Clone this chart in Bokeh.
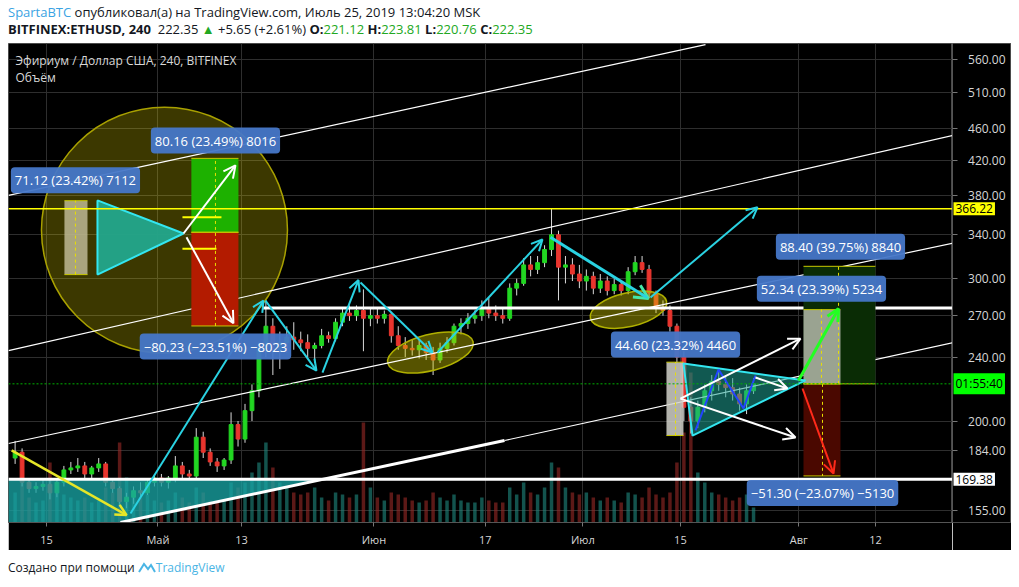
from bokeh.plotting import figure
from bokeh.models import (ColumnDataSource, Range1d, LinearScale, FixedTicker, Label, Arrow,
                          OpenHead, Div, Span, NumeralTickFormatter)
from bokeh.layouts import column, row
from bokeh.embed import file_html
from bokeh.resources import INLINE

# ---------------- data (x = days since 2019-04-01, daily candles) ----------------
day = list(range(9, 116))
open_ = [180, 183, 168, 165, 166, 167, 163, 168, 174, 175, 176, 172, 175, 177, 168, 165, 159, 161, 164, 163,
         168, 170, 168, 170, 176, 172, 171, 191, 183, 178, 176, 179, 198, 190, 206, 218, 246, 262, 245, 250,
         254, 252, 250, 246, 248, 255, 253, 265, 272, 270, 274, 268, 270, 268, 271, 255, 248, 246, 245, 248,
         243, 238, 246, 250, 262, 264, 268, 270, 276, 272, 270, 268, 292, 296, 312, 308, 314, 326, 340, 310,
         312, 304, 298, 302, 292, 298, 290, 295, 290, 306, 314, 308, 288, 276, 274, 262, 240, 208, 200, 208,
         218, 224, 222, 220, 216, 210, 218]
high = [189, 185, 170, 168, 169, 170, 170, 176, 178, 180, 178, 176, 180, 178, 169, 166, 163, 166, 168, 170,
        172, 172, 171, 181, 178, 174, 196, 194, 185, 180, 180, 205, 200, 210, 222, 250, 282, 268, 258, 262,
        265, 258, 256, 250, 260, 258, 268, 276, 278, 278, 291, 276, 276, 274, 273, 262, 254, 252, 252, 250,
        247, 250, 254, 264, 268, 272, 274, 282, 284, 278, 276, 296, 300, 318, 320, 320, 330, 366, 344, 320,
        318, 312, 308, 306, 304, 302, 300, 298, 310, 320, 320, 312, 290, 282, 278, 264, 244, 214, 212, 222,
        228, 232, 228, 226, 220, 222, 226]
low = [177, 166, 163, 163, 164, 160, 161, 166, 172, 173, 170, 170, 173, 166, 163, 157, 156, 158, 161, 162,
       166, 166, 165, 168, 170, 169, 170, 180, 176, 173, 174, 177, 186, 188, 200, 214, 240, 228, 232, 243,
       245, 244, 240, 236, 246, 250, 251, 262, 266, 266, 244, 262, 264, 264, 250, 245, 240, 241, 239, 238,
       228, 236, 243, 248, 256, 260, 264, 266, 268, 266, 264, 266, 286, 294, 302, 304, 310, 320, 282, 296,
       298, 292, 290, 287, 288, 286, 287, 286, 287, 303, 305, 284, 272, 270, 258, 236, 200, 193, 196, 205,
       212, 218, 214, 212, 206, 204, 216]
close = [183, 168, 165, 166, 167, 163, 168, 174, 175, 176, 172, 175, 177, 168, 165, 159, 161, 164, 163, 168,
         170, 168, 170, 176, 172, 171, 191, 183, 178, 176, 179, 198, 190, 206, 218, 246, 262, 245, 250, 254,
         252, 250, 246, 248, 255, 253, 265, 272, 270, 274, 268, 270, 268, 271, 255, 248, 246, 245, 248, 243,
         238, 246, 250, 262, 264, 268, 270, 276, 272, 270, 268, 292, 296, 312, 308, 314, 326, 340, 310, 312,
         304, 298, 302, 292, 298, 290, 295, 290, 306, 314, 308, 288, 276, 274, 262, 240, 208, 200, 208, 218,
         224, 222, 220, 216, 210, 218, 222.35]
volume = [30, 40, 25, 20, 22, 60, 30, 28, 25, 22, 25, 20, 22, 35, 30, 80, 45, 30, 25, 28,
          22, 20, 22, 30, 25, 20, 35, 30, 22, 20, 22, 40, 35, 40, 50, 60, 80, 55, 40, 35,
          30, 28, 30, 35, 25, 22, 30, 28, 25, 28, 100, 35, 25, 22, 30, 28, 25, 22, 20, 22,
          30, 25, 22, 28, 22, 20, 20, 25, 22, 20, 20, 35, 28, 40, 30, 28, 35, 60, 55, 35,
          30, 28, 30, 25, 22, 25, 22, 20, 30, 28, 25, 35, 28, 25, 30, 60, 90, 150, 50, 40,
          30, 28, 25, 22, 25, 28, 15]

X_START, X_END = 8.55, 144.06
Y_LOW, Y_HIGH = 149.8, 586.2
x_ticks = [14, 30, 42, 61, 77, 91, 105, 122, 133]
x_tick_labels = ["15", "Май", "13", "Июн", "17", "Июл", "15", "Авг", "12"]
y_ticks = [155, 184, 200, 240, 270, 300, 340, 380, 420, 460, 510, 560]

last_price = 222.35
level_yellow = 366.22
level_low = 169.38
level_res = 276.0

# channel lines (x0, y0, x1, y1)
chan_x0 = [8.55, 8.55, 8.55, 79.75]
chan_y0 = [380.3, 244.4, 187.6, 189.2]
chan_x1 = [108.6, 144.06, 144.06, 144.06]
chan_y1 = [584.4, 451.0, 331.9, 250.0]
support_x = [24.62, 79.75]
support_y = [149.8, 189.2]
res_x = [45.0, 144.06]
teal_poly_x = [8.55, 54.19, 24.62, 8.55]
teal_poly_y = [169.38, 169.38, 149.8, 149.8]

# cyan zigzag arrows
cy_x0 = [26.06, 45.44, 53.62, 59.08, 70.13, 100.71]
cy_y0 = [153.7, 281.8, 229.6, 296.7, 243.1, 284.3]
cy_x1 = [45.15, 52.76, 58.79, 69.41, 85.2, 116.07]
cy_y1 = [281.8, 230.9, 298.8, 243.1, 335.4, 367.6]
peak_arrow = [86.35, 337.6, 100.42, 283.5]
yellow_arrow = [9.0, 184.0, 25.5, 153.0]

# white arrows
wa_x0 = [33.67, 34.10, 105.01, 105.01, 115.78]
wa_y0 = [341.2, 337.6, 213.2, 213.2, 226.4]
wa_x1 = [41.13, 40.84, 122.24, 121.52, 120.37]
wa_y1 = [414.2, 264.2, 252.9, 190.8, 219.4]
green_arrow = [121.95, 224.5, 127.7, 275.4]
red_arrow = [122.53, 219.4, 126.98, 172.2]

# highlight ellipses
ell_x = [69.12, 97.55]
ell_y = [243.1, 274.6]
circle_x, circle_y = 30.94, 344.5

# rectangles (left, right, bottom, top)
rect_left = [16.58, 34.8, 34.8, 103.0, 122.67, 122.67, 122.67]
rect_right = [19.89, 41.56, 41.56, 105.44, 133.0, 127.98, 127.98]
rect_bottom = [303.5, 342.4, 262.2, 191.9, 222.35, 222.35, 171.05]
rect_top = [374.6, 422.6, 342.4, 236.5, 310.75, 274.69, 222.35]
rect_colors = ["#bdb894", "#1db100", "#b31b00", "#d2d2ca", "#0a2c05", "#b4b8aa", "#4a0800"]
rect_alpha = [0.85, 1.0, 1.0, 0.85, 1.0, 0.85, 1.0]
dash_x = [18.16, 38.26, 104.3, 125.25, 127.7, 125.4]
dash_y0 = [303.5, 262.2, 191.9, 222.35, 222.35, 222.35]
dash_y1 = [374.6, 422.6, 236.5, 274.69, 310.75, 171.05]

tri1_x = [21.32, 21.32, 33.67]
tri1_y = [374.9, 303.5, 341.2]
tri2_x = [105.44, 106.74, 122.96]
tri2_y = [235.6, 191.9, 224.5]
zig_x = [107.17, 110.47, 114.06, 115.78]
zig_y = [194.7, 231.6, 207.3, 227.7]
short_x0 = [33.52, 33.52]
short_x1 = [39.12, 38.4]
short_y = [357.4, 326.7]

meas_text = ["71.12 (23.42%) 7112", "80.16 (23.49%) 8016", "\u221280.23 (\u221223.51%) \u22128023",
             "44.60 (23.32%) 4460", "88.40 (39.75%) 8840", "52.34 (23.39%) 5234",
             "\u221251.30 (\u221223.07%) \u22125130"]
meas_x = [18.16, 38.26, 38.26, 104.3, 127.98, 125.25, 125.4]
meas_y = [397.0, 444.6, 247.3, 248.7, 328.6, 291.6, 162.9]

scale_marks = ["366.22", "01:55:40", "169.38"]
scale_mark_y = [level_yellow, last_price, level_low]
scale_mark_bg = ["#ffff00", "#00ff00", "#ffffff"]

# ---------------- main figure ----------------
y_range = Range1d(Y_LOW, Y_HIGH)
p = figure(width=944, height=507,
           x_range=Range1d(X_START, X_END), y_range=y_range,
           y_axis_type="log", y_axis_location="right",
           output_backend="svg", toolbar_location=None,
           min_border_left=0, min_border_right=0, min_border_top=0, min_border_bottom=28,
           background_fill_color="#000000", border_fill_color="#000000",
           outline_line_color="#4a4a4a")
p.extra_y_ranges = {"vol": Range1d(0, 479)}
p.extra_y_scales = {"vol": LinearScale()}
p.yaxis.visible = False

xax = p.xaxis[0]
xax.ticker = FixedTicker(ticks=x_ticks, minor_ticks=[])
xax.major_label_overrides = {t: l for t, l in zip(x_ticks, x_tick_labels)}
xax.major_label_text_color = "#d6d6d6"
xax.major_label_text_font = "Open Sans"
xax.major_label_text_font_size = "11px"
xax.axis_line_color = "#555555"
xax.major_tick_line_color = "#777777"
xax.major_tick_in = 0
xax.major_tick_out = 4
xax.minor_tick_line_color = None
xax.major_label_standoff = 5

p.xgrid.ticker = FixedTicker(ticks=x_ticks)
p.ygrid.ticker = FixedTicker(ticks=y_ticks)
p.grid.grid_line_color = "#2e2e2e"

# volume
xc = [d + 0.5 for d in day]
up = [c >= o for o, c in zip(open_, close)]
vol_col = ["#1f8a80" if u else "#9a2a26" for u in up]
p.vbar(x=xc, top=volume, bottom=0, width=0.5, y_range_name="vol",
       fill_color=vol_col, line_color=None, fill_alpha=0.6)

# candles
cand_col = ["#22d622" if u else "#e8352e" for u in up]
p.segment(x0=xc, y0=low, x1=xc, y1=high, line_color="#d9d9d9", line_width=1)
p.vbar(x=xc, top=[max(o, c) for o, c in zip(open_, close)],
       bottom=[min(o, c) for o, c in zip(open_, close)], width=0.55,
       fill_color=cand_col, line_color=cand_col)

# big circle and ellipses
p.ellipse(x=[circle_x], y=[circle_y], width=246, height=246, width_units="screen", height_units="screen",
          fill_color="#f0e000", fill_alpha=0.25, line_color="#a8a000", line_width=1.5)
p.ellipse(x=ell_x, y=ell_y, width=[88, 78], height=[36, 34], angle=[0.25, 0.22],
          width_units="screen", height_units="screen",
          fill_color="#d8d000", fill_alpha=0.4, line_color="#b0b000", line_width=1.5)

# teal zone bottom-left
p.patch(teal_poly_x, teal_poly_y, fill_color="#18a3a3", fill_alpha=0.78, line_color=None)

# levels
p.add_layout(Span(location=level_yellow, dimension="width", line_color="#ffff00", line_width=1.5))
p.add_layout(Span(location=last_price, dimension="width", line_color="#00b000", line_width=1,
                  line_dash="2 2"))
p.add_layout(Span(location=level_low, dimension="width", line_color="#ffffff", line_width=3))
p.line(res_x, [level_res, level_res], line_color="#ffffff", line_width=3)

# channels
p.segment(x0=chan_x0, y0=chan_y0, x1=chan_x1, y1=chan_y1, line_color="#ffffff", line_width=1.2)
p.line(support_x, support_y, line_color="#ffffff", line_width=3)

# rectangles
p.quad(left=rect_left, right=rect_right, bottom=rect_bottom, top=rect_top,
       fill_color=rect_colors, fill_alpha=rect_alpha, line_color=None)
p.segment(x0=rect_left, y0=rect_top, x1=rect_right, y1=rect_top, line_color="#c8c800", line_width=1)
p.segment(x0=rect_left, y0=rect_bottom, x1=rect_right, y1=rect_bottom, line_color="#c8c800", line_width=1)
p.segment(x0=dash_x, y0=dash_y0, x1=dash_x, y1=dash_y1, line_color="#e8e000", line_width=1,
          line_dash="3 3")
p.segment(x0=short_x0, y0=short_y, x1=short_x1, y1=short_y, line_color="#ffff00", line_width=2)

# triangles
p.patch(tri1_x, tri1_y, fill_color="#22a68c", fill_alpha=0.95, line_color="#33e6f0", line_width=2)
p.patch(tri2_x, tri2_y, fill_color="#1fa294", fill_alpha=0.55, line_color="#33e6f0", line_width=2)
p.line(zig_x, zig_y, line_color="#2244ff", line_width=2)


def arrows(x0, y0, x1, y1, color, width, head_color=None, size=11):
    src = ColumnDataSource(dict(x0=x0, y0=y0, x1=x1, y1=y1))
    p.add_layout(Arrow(end=OpenHead(line_color=head_color or color, line_width=width, size=size),
                       x_start="x0", y_start="y0", x_end="x1", y_end="y1", source=src,
                       line_color=color, line_width=width))


arrows(cy_x0, cy_y0, cy_x1, cy_y1, "#2ad2e2", 2)
arrows([peak_arrow[0]], [peak_arrow[1]], [peak_arrow[2]], [peak_arrow[3]], "#2ad2e2", 3,
       head_color="#45e6a8", size=14)
arrows([yellow_arrow[0]], [yellow_arrow[1]], [yellow_arrow[2]], [yellow_arrow[3]], "#e6e628", 2.5)
arrows(wa_x0, wa_y0, wa_x1, wa_y1, "#ffffff", 2, size=12)
arrows([green_arrow[0]], [green_arrow[1]], [green_arrow[2]], [green_arrow[3]], "#22ff22", 3, size=12)
arrows([red_arrow[0]], [red_arrow[1]], [red_arrow[2]], [red_arrow[3]], "#ff2a1a", 2, size=12)

# measurement labels
for t, x, y in zip(meas_text, meas_x, meas_y):
    p.add_layout(Label(x=x, y=y, text=t, text_align="center", text_baseline="middle",
                       text_color="#ffffff", text_font="Open Sans", text_font_size="13px",
                       background_fill_color="#4677c8", background_fill_alpha=0.95,
                       border_radius=4, padding=4))

# pane legend
p.add_layout(Label(x=X_START, y=Y_HIGH, x_offset=7, y_offset=-17, text="Эфириум / Доллар США, 240, BITFINEX",
                   text_baseline="middle", text_color="#d8d8d8", text_font="Open Sans",
                   text_font_size="12px"))
p.add_layout(Label(x=X_START, y=Y_HIGH, x_offset=7, y_offset=-34, text="Объём",
                   text_baseline="middle", text_color="#d8d8d8", text_font="Open Sans",
                   text_font_size="12px"))

# ---------------- price scale (shares the price range) ----------------
s = figure(width=59, height=507, x_range=Range1d(0, 1), y_range=y_range,
           y_axis_type="log", y_axis_location="left", x_axis_location=None,
           output_backend="svg", toolbar_location=None,
           min_border_left=0, min_border_right=0, min_border_top=0, min_border_bottom=28,
           background_fill_color="#000000", border_fill_color="#000000",
           outline_line_color="#4a4a4a")
s.grid.visible = False
yax = s.yaxis[0]
yax.ticker = FixedTicker(ticks=y_ticks, minor_ticks=[])
yax.formatter = NumeralTickFormatter(format="0.00")
yax.major_label_text_color = "#d6d6d6"
yax.major_label_text_font = "Open Sans"
yax.major_label_text_font_size = "12px"
yax.axis_line_color = "#555555"
yax.major_tick_line_color = "#777777"
yax.major_tick_in = 5
yax.major_tick_out = 0
yax.minor_tick_line_color = None
yax.major_label_standoff = -53

for t, y, bg in zip(scale_marks, scale_mark_y, scale_mark_bg):
    s.add_layout(Label(x=0, y=y, x_offset=1, text=t, text_align="left", text_baseline="middle",
                       text_color="#000000", text_font="Open Sans", text_font_size="12px",
                       background_fill_color=bg, padding=2))

header = Div(text=(
    "<div style=\"font-family:'Open Sans';font-size:13px;line-height:17px;color:#131722;"
    "white-space:nowrap;padding-top:4px\">"
    "<span style='color:#3aa3e3'>SpartaBTC</span> опубликовал(а) на TradingView.com, Июль 25, 2019 13:04:20 MSK<br>"
    "<b>BITFINEX:ETHUSD, 240</b>&nbsp; 222.35 <span style='color:#22a822'>&#9650;</span> +5.65 (+2.61%) "
    "<b>O:</b><span style='color:#22a822'>221.12</span> <b>H:</b><span style='color:#22a822'>223.81</span> "
    "<b>L:</b><span style='color:#22a822'>220.76</span> <b>C:</b><span style='color:#22a822'>222.35</span>"
    "</div>"), width=1003, height=43, margin=(0, 0, 0, 0))

footer = Div(text=(
    "<div style=\"font-family:'Open Sans';font-size:12px;line-height:14px;color:#131722;"
    "white-space:nowrap;padding-top:11px\">Создано при помощи "
    "<svg width='18' height='12' viewBox='0 0 18 12' style='vertical-align:-1px'>"
    "<path d='M1 11 L6 3 L10 8 L13 4 L17 11' fill='none' stroke='#4ab5e5' stroke-width='2'/></svg>"
    "<span style='color:#4ab5e5'>TradingView</span></div>"), width=1003, height=36, margin=(0, 0, 0, 0))

layout = column(header, row(p, s, spacing=0), footer, spacing=0, margin=(0, 0, 0, 8))
open("out.html", "w").write(file_html(layout, INLINE))
